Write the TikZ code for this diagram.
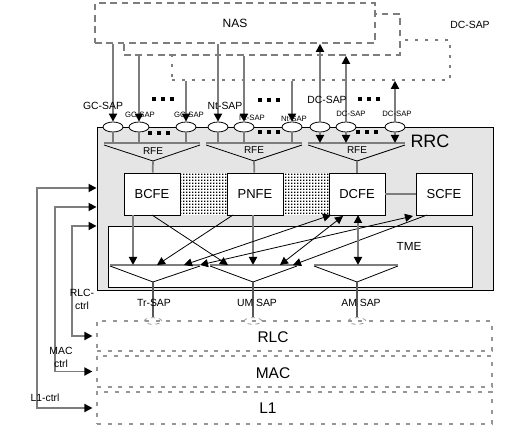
\documentclass[tikz,border=0pt]{standalone}
\usepackage{fontspec}
\setmainfont{Liberation Sans}
\usetikzlibrary{arrows.meta,patterns,shapes.geometric}
\definecolor{wiregray}{RGB}{125,125,125}
\definecolor{dashgray}{RGB}{150,150,150}
\definecolor{rrcfill}{RGB}{229,229,229}
\pgfdeclarepatternformonly{finedots}{\pgfpointorigin}{\pgfpoint{2.25pt}{2.25pt}}{\pgfpoint{2.25pt}{2.25pt}}{\pgfpathrectangle{\pgfpointorigin}{\pgfpoint{1.3pt}{1.3pt}}\pgfusepath{fill}}
\tikzset{
	nasbox/.style={draw=wiregray,line width=1.2pt,dash pattern=on 5pt off 3.5pt,fill=white,minimum height=30pt,inner sep=0pt,font=\fontsize{9}{10}\selectfont},
	layerbox/.style={draw=dashgray,line width=0.9pt,dash pattern=on 3pt off 5pt,minimum width=296.25pt,inner sep=0pt},
	fe/.style={draw,fill=white,line width=0.6pt,minimum width=42pt,minimum height=31.5pt,inner sep=0pt,font=\fontsize{9.75}{11}\selectfont},
	sap/.style={draw,ellipse,fill=white,line width=0.6pt,minimum width=15pt,minimum height=7.5pt,inner sep=0pt},
	sapdash/.style={draw=dashgray,ellipse,dashed,line width=0.6pt,minimum width=13pt,minimum height=5pt,inner sep=0pt},
	wire/.style={draw=wiregray,line width=1.3pt},
	thinline/.style={draw=black,line width=0.6pt},
	tipend/.style={-{Triangle[length=6pt,width=6pt,color=black]}},
	tipboth/.style={{Triangle[length=6pt,width=6pt,color=black]}-{Triangle[length=6pt,width=6pt,color=black]}},
	lbl/.style={inner sep=0pt,font=\fontsize{7.8}{9.75}\selectfont},
	smalllbl/.style={inner sep=0pt,font=\fontsize{5.8}{7}\selectfont},
	layerlbl/.style={inner sep=0pt,font=\fontsize{11.6}{13}\selectfont}
}
\begin{document}
\begin{tikzpicture}[x=0.75pt,y=-0.75pt]
	\useasboundingbox (0,0) rectangle (508,427);
	\node[nasbox,dash pattern=on 2.5pt off 5pt,minimum width=208.5pt] (nas3) at (311,60) {};
	\node[nasbox,minimum width=207pt,minimum height=30.75pt] (nas2) at (262,34.5) {};
	\node[nasbox,minimum width=210pt] (nas) at (235,23) {NAS};
	\node[lbl] (dctop) at (470,25) {DC-SAP};
	\node[draw,line width=0.7pt,fill=rrcfill,minimum width=297pt,minimum height=122.25pt,inner sep=0pt] (rrc) at (295,208.5) {};
	\node[inner sep=0pt,font=\fontsize{13.5}{15}\selectfont] (rrclbl) at (430,141) {RRC};
	\node[layerbox,minimum height=22.5pt] (rlc) at (294.5,336) {};
	\node[layerbox,minimum height=23.25pt] (mac) at (294.5,371.5) {};
	\node[layerbox,minimum height=24pt] (l1) at (294.5,408) {};
	\node[layerlbl] (rlclbl) at (273,337) {RLC};
	\node[layerlbl] (maclbl) at (273,373) {MAC};
	\node[layerlbl] (l1lbl) at (268,408) {L1};
	\fill[white] (180,173) rectangle (227,215);
	\fill[white] (283,173) rectangle (329,215);
	\fill[pattern=finedots] (180,173) rectangle (227,215);
	\fill[pattern=finedots] (283,173) rectangle (329,215);
	\node[fe] (bcfe) at (152,194) {BCFE};
	\node[fe] (pnfe) at (255,194) {PNFE};
	\node[fe] (dcfe) at (357,194) {DCFE};
	\node[fe] (scfe) at (444,194) {SCFE};
	\draw[wire] (dcfe) -- (scfe);
	\node[draw,line width=0.7pt,fill=white,minimum width=273pt,minimum height=45.75pt,inner sep=0pt] (tme) at (290,256.5) {};
	\node[inner sep=0pt,font=\fontsize{8.8}{10}\selectfont] (tmelbl) at (409,246) {TME};
	\coordinate (barA) at (104,143);
	\coordinate (barB) at (206,143);
	\coordinate (barC) at (308,143);
	\coordinate (rfeA) at (153,161);
	\coordinate (rfeB) at (254,161);
	\coordinate (rfeC) at (357,161);
	\draw[thinline] (104,145) -- (rfeA) -- (200,145);
	\draw[thinline] (206,145) -- (rfeB) -- (302,145);
	\draw[thinline] (308,145) -- (rfeC) -- (405,145);
	\draw[wire] (barA) -- (200,143);
	\draw[wire] (barB) -- (302,143);
	\draw[wire] (barC) -- (405,143);
	\node[inner sep=0pt,font=\fontsize{7.5}{9}\selectfont] (rfeAlbl) at (153,151) {RFE};
	\node[inner sep=0pt,font=\fontsize{7.5}{9}\selectfont] (rfeBlbl) at (254,150) {RFE};
	\node[inner sep=0pt,font=\fontsize{7.5}{9}\selectfont] (rfeClbl) at (357,150) {RFE};
	\draw[wire] (rfeA) -- (bcfe);
	\draw[wire] (rfeB) -- (pnfe);
	\draw[wire] (rfeC) -- (dcfe);
	\node[sap] (g1) at (113,127) {};
	\node[sap] (g2) at (139,127) {};
	\node[sap] (g3) at (186,127) {};
	\node[sap] (n1) at (218,127) {};
	\node[sap] (n2) at (244,127) {};
	\node[sap] (n3) at (292,127) {};
	\node[sap] (d1) at (320,127) {};
	\node[sap] (d2) at (346,127) {};
	\node[sap] (d3) at (395,127) {};
	\draw[wire,tipend] (g1 |- nas.south) -- (g1);
	\draw[wire,tipend] (g2 |- nas2.south) -- (g2);
	\draw[wire,tipend] (g3 |- nas3.south) -- (g3);
	\draw[wire,tipend] (n1 |- nas.south) -- (n1);
	\draw[wire,tipend] (n2 |- nas2.south) -- (n2);
	\draw[wire,tipend] (n3 |- nas3.south) -- (n3);
	\draw[wire,tipend] (d1) -- (d1 |- nas.south);
	\draw[wire,tipend] (d2) -- (d2 |- nas2.south);
	\draw[wire,tipend] (d3) -- (d3 |- nas3.south);
	\draw[wire] (g1) -- (g1 |- barA);
	\draw[wire] (g2) -- (g2 |- barA);
	\draw[wire] (g3) -- (g3 |- barA);
	\draw[wire] (n1) -- (n1 |- barB);
	\draw[wire] (n2) -- (n2 |- barB);
	\draw[wire] (n3) -- (n3 |- barB);
	\draw[wire,tipend] (d1) -- (d1 |- barC);
	\draw[wire,tipend] (d2) -- (d2 |- barC);
	\draw[wire,tipend] (d3) -- (d3 |- barC);
	\node[lbl] (gclbl) at (103,106) {GC-SAP};
	\node[lbl] (ntlbl) at (225,106) {Nt-SAP};
	\node[lbl] (dclbl) at (327,100) {DC-SAP};
	\node[smalllbl] (g2lbl) at (140,115) {GC-SAP};
	\node[smalllbl] (g3lbl) at (189,115) {GC-SAP};
	\node[smalllbl] (n2lbl) at (252,118) {Nt-SAP};
	\node[smalllbl] (n3lbl) at (294,119) {Nt-SAP};
	\node[smalllbl] (d2lbl) at (351,114) {DC-SAP};
	\node[smalllbl] (d3lbl) at (397,114) {DC-SAP};
	\foreach \px/\py in {163/99,269/100,369/99,159/133,269/132,367/132}
		\foreach \k in {-9,0,9}
			\fill (\px+\k-2,\py-2) rectangle ++(4,4);
	\coordinate (trA) at (153,282);
	\coordinate (umA) at (253,282);
	\coordinate (amA) at (357,282);
	\draw[thinline] (110,266) -- (trA) -- (200,266);
	\draw[thinline] (210,266) -- (umA) -- (297,266);
	\draw[thinline] (314,266) -- (amA) -- (398,266);
	\draw[wire] (110,265) -- (200,265);
	\draw[wire] (210,265) -- (297,265);
	\draw[wire] (314,265) -- (398,265);
	\node[sapdash] (trsap) at (153,321) {};
	\node[sapdash] (umsap) at (253,321) {};
	\node[sapdash] (amsap) at (357,321) {};
	\draw[draw=wiregray!70!black,line width=0.8pt] (trA) -- (trsap.north);
	\draw[draw=wiregray!70!black,line width=0.8pt] (umA) -- (umsap.north);
	\draw[draw=wiregray!70!black,line width=0.8pt] (amA) -- (amsap.north);
	\node[lbl] (trlbl) at (154,303) {Tr-SAP};
	\node[lbl] (umlbl) at (257,303) {UM SAP};
	\node[lbl] (amlbl) at (361,303) {AM SAP};
	\coordinate (bc1) at (133,215);
	\coordinate (bc2) at (152,215);
	\coordinate (pn1) at (233,215);
	\coordinate (pn2) at (253,215);
	\coordinate (dc1) at (331,215);
	\coordinate (dc2) at (343,216);
	\coordinate (dc3) at (358,215);
	\coordinate (sc1) at (413,216);
	\coordinate (sc2) at (427,215);
	\coordinate (tr1) at (133,265);
	\coordinate (tr2) at (157,265);
	\coordinate (tr3) at (184,265);
	\coordinate (tr4) at (200,265);
	\coordinate (um1) at (228,265);
	\coordinate (um2) at (253,265);
	\coordinate (um3) at (280,265);
	\coordinate (um4) at (293,265);
	\coordinate (am1) at (358,265);
	\draw[wire,tipend] (bc1) -- (tr1);
	\draw[thinline,tipend] (bc2) -- (um1);
	\draw[thinline,tipend] (pn1) -- (tr2);
	\draw[wire,tipend] (pn2) -- (um2);
	\draw[thinline,tipboth] (tr3) -- (dc1);
	\draw[thinline,tipboth] (tr4) -- (sc1);
	\draw[thinline,tipboth] (um3) -- (dc2);
	\draw[thinline,tipend] (sc2) -- (um4);
	\draw[wire,tipboth] (dc3) -- (am1);
	\coordinate (l1c) at (37,188);
	\coordinate (macc) at (55,207);
	\coordinate (rlcc) at (72,226);
	\draw[wire,tipboth,shorten >=3pt] (l1c -| rrc.west) -- (l1c) |- (l1.west);
	\draw[wire,tipboth,shorten >=3pt] (macc -| rrc.west) -- (macc) |- (mac.west);
	\draw[wire,tipboth,shorten >=3pt] (rlcc -| rrc.west) -- (rlcc) |- (rlc.west);
	\node[lbl,align=center] (rlcctrl) at (82,299) {RLC-\\ctrl};
	\node[lbl,align=center] (macctrl) at (61,357) {MAC\\ctrl};
	\node[lbl] (l1ctrl) at (45,398) {L1-ctrl};
\end{tikzpicture}
\end{document}
